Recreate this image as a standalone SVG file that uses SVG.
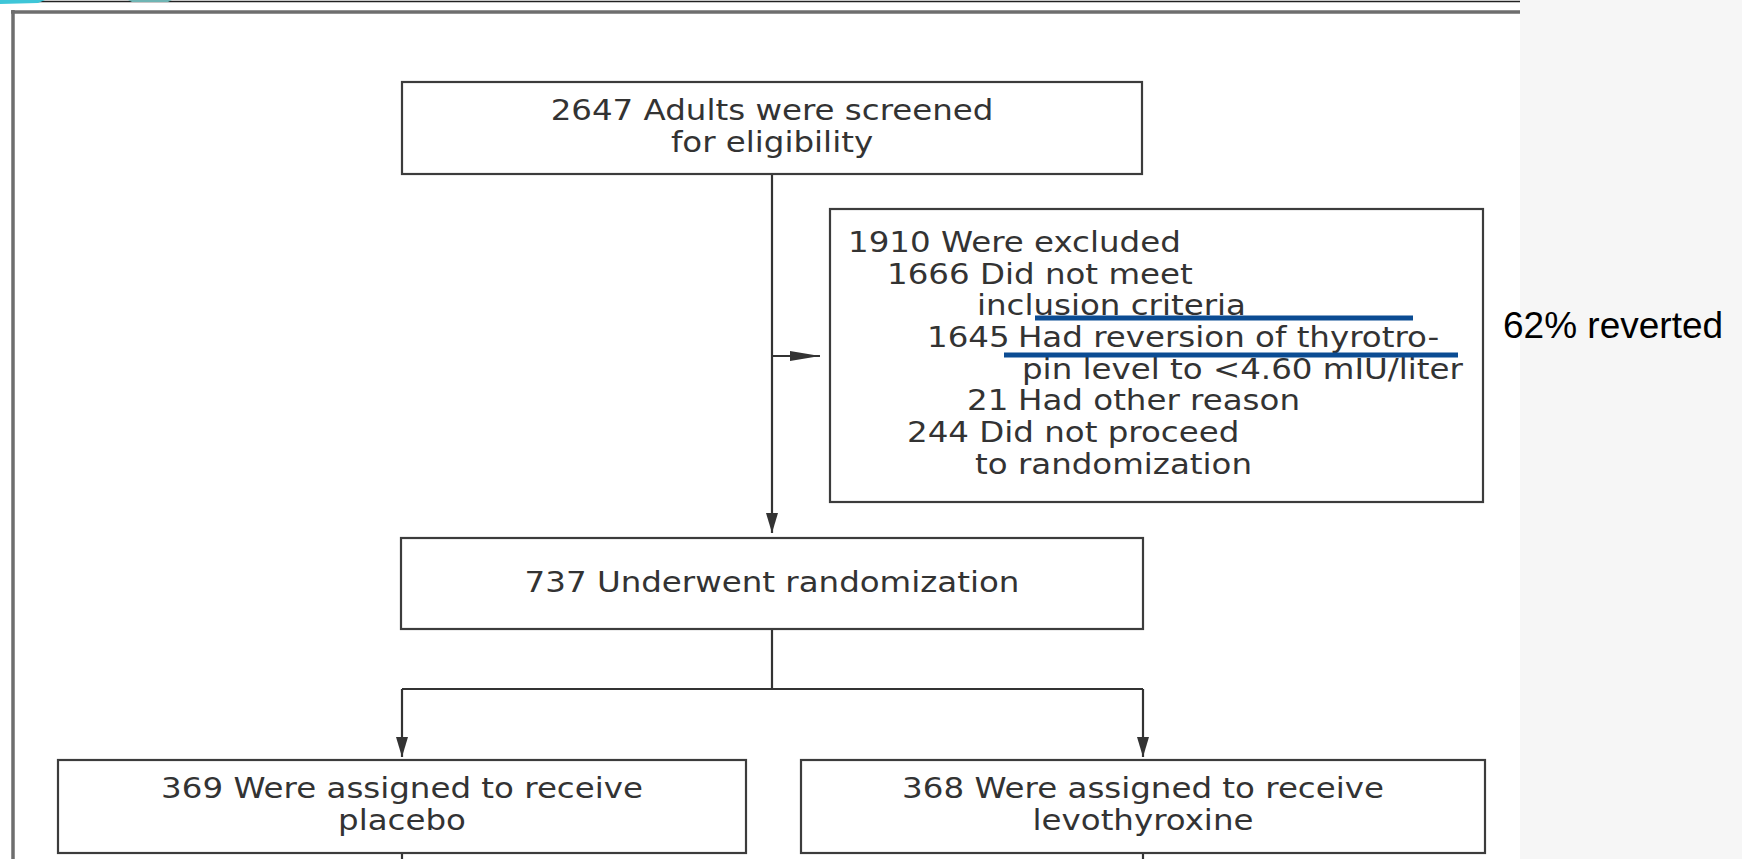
<svg xmlns="http://www.w3.org/2000/svg" width="1742" height="859" viewBox="0 0 1742 859">
<style>
.box{fill:#fff;stroke:#3c3c3c;stroke-width:2.2}
.t{font-family:"DejaVu Sans",Verdana,sans-serif;font-size:28px;fill:#333}
.c{text-anchor:middle}
.ln{fill:none;stroke:#333;stroke-width:2.2}
.blue{stroke:#0b4c93;stroke-width:5}
.note{font-family:"Liberation Sans",Arial,sans-serif;font-size:37px;fill:#000}
</style>
<defs>
<marker id="arrV" markerUnits="userSpaceOnUse" markerWidth="20" markerHeight="12" refX="20" refY="6" orient="auto"><path d="M0,0 L20,6 L0,12 Z" fill="#333"/></marker>
<marker id="arrH" markerUnits="userSpaceOnUse" markerWidth="30" markerHeight="10" refX="30" refY="5" orient="auto"><path d="M0,0 L30,5 L0,10 Z" fill="#333"/></marker>
</defs>
<rect width="1742" height="859" fill="#fff"/>
<rect x="1520" y="0" width="222" height="859" fill="#f6f6f6"/>
<g id="frame">
<line x1="0" y1="1.5" x2="1520" y2="1.5" stroke="#222" stroke-width="1.6"/>
<polygon points="0,0 45,0 38,3 0,4" fill="#3ec6d8"/>
<polygon points="128,0 172,0 168,2 132,2" fill="#6fb5b4"/>
<line x1="11" y1="12" x2="1520" y2="12" stroke="#6e6e6e" stroke-width="3.5"/>
<line x1="13" y1="10" x2="13" y2="859" stroke="#6e6e6e" stroke-width="3.5"/>
</g>
<g id="connectors">
<path class="ln" d="M772,174 V533" marker-end="url(#arrV)"/>
<path class="ln" d="M772,356 H820" marker-end="url(#arrH)"/>
<path class="ln" d="M772,629 V689 M402,689 H1143"/>
<path class="ln" d="M402,689 V757" marker-end="url(#arrV)"/>
<path class="ln" d="M1143,689 V757" marker-end="url(#arrV)"/>
<path class="ln" d="M402,853 V859 M1143,853 V859"/>
</g>
<g id="screened">
<rect class="box" x="402" y="82" width="740" height="92"/>
<text class="t c" transform="translate(772,120) scale(1.16,1)">2647 Adults were screened</text>
<text class="t c" transform="translate(772,152) scale(1.16,1)">for eligibility</text>
</g>
<g id="excluded">
<rect class="box" x="830" y="209" width="653" height="293"/>
<text class="t" transform="translate(848,252) scale(1.16,1)">1910 Were excluded</text>
<text class="t" transform="translate(887,284) scale(1.16,1)">1666 Did not meet</text>
<text class="t" transform="translate(977,315) scale(1.16,1)">inclusion criteria</text>
<text class="t" transform="translate(927,347) scale(1.16,1)">1645 <tspan x="78.4">Had reversion of thyrotro-</tspan></text>
<text class="t" transform="translate(1022,379) scale(1.16,1)">pin level to &lt;4.60 mIU/liter</text>
<text class="t" transform="translate(967,410) scale(1.16,1)">21 <tspan x="44">Had other reason</tspan></text>
<text class="t" transform="translate(907,442) scale(1.16,1)">244 Did not proceed</text>
<text class="t" transform="translate(975,474) scale(1.16,1)">to randomization</text>
</g>
<g id="highlight">
<line class="blue" x1="1035" y1="318" x2="1413" y2="318"/>
<line class="blue" x1="1004" y1="355" x2="1458" y2="355"/>
</g>
<g id="randomized">
<rect class="box" x="401" y="538" width="742" height="91"/>
<text class="t c" transform="translate(772,592) scale(1.16,1)">737 Underwent randomization</text>
</g>
<g id="placebo">
<rect class="box" x="58" y="760" width="688" height="93"/>
<text class="t c" transform="translate(402,798) scale(1.16,1)">369 Were assigned to receive</text>
<text class="t c" transform="translate(402,830) scale(1.16,1)">placebo</text>
</g>
<g id="levothyroxine">
<rect class="box" x="801" y="760" width="684" height="93"/>
<text class="t c" transform="translate(1143,798) scale(1.16,1)">368 Were assigned to receive</text>
<text class="t c" transform="translate(1143,830) scale(1.16,1)">levothyroxine</text>
</g>
<g id="annotation">
<text class="note" x="1503" y="338">62% reverted</text>
</g>
</svg>
